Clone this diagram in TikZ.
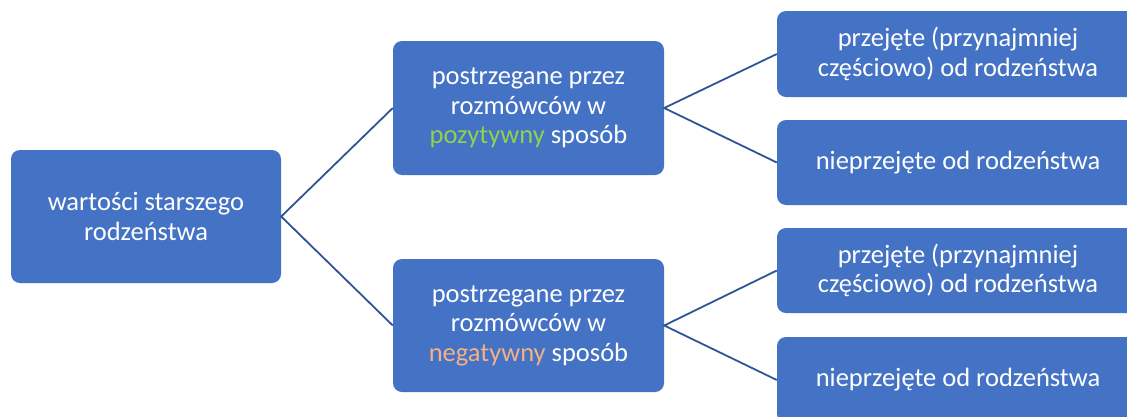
\documentclass[tikz,border=0pt]{standalone}
\usepackage{fontspec}
\setmainfont{Carlito}
\definecolor{boxblue}{HTML}{4472C4}
\definecolor{lineblue}{HTML}{2F5597}
\definecolor{posgreen}{HTML}{92D050}
\definecolor{negorange}{HTML}{F4B183}
\tikzset{
  box/.style={fill=boxblue, draw=none, rounded corners=9pt, text=white, align=center,
    font=\fontsize{26.5}{29.5}\selectfont, inner sep=0pt},
  conn/.style={draw=lineblue, line width=1.8pt}
}
\begin{document}
\begin{tikzpicture}[x=1pt,y=-1pt]
\useasboundingbox (0,0) rectangle (1127,416);
\clip (0,0) rectangle (1127,416);
\fill[white] (0,0) rectangle (1127,416);
\node[box, minimum width=270pt, minimum height=133pt] (root) at (146,216.5) {wartości starszego\\rodzeństwa};
\node[box, minimum width=271pt, minimum height=134pt] (mt) at (528.5,108) {postrzegane przez\\rozmówców w\\\textcolor{posgreen}{pozytywny} sposób};
\node[box, minimum width=271pt, minimum height=133pt] (mb) at (528.5,325.5) {postrzegane przez\\rozmówców w\\\textcolor{negorange}{negatywny} sposób};
\node[box, minimum width=362pt, minimum height=86pt] (r1) at (958,54) {przejęte (przynajmniej\\częściowo) od rodzeństwa};
\node[box, minimum width=362pt, minimum height=85pt] (r2) at (958,162.5) {nieprzejęte od rodzeństwa};
\node[box, minimum width=362pt, minimum height=85pt] (r3) at (958,270.5) {przejęte (przynajmniej\\częściowo) od rodzeństwa};
\node[box, minimum width=362pt, minimum height=86pt] (r4) at (958,380) {nieprzejęte od rodzeństwa};
\draw[conn] (mt.west) -- (root.east) -- (mb.west);
\draw[conn] (r1.west) -- (mt.east) -- (r2.west);
\draw[conn] (r3.west) -- (mb.east) -- (r4.west);
\end{tikzpicture}
\end{document}
